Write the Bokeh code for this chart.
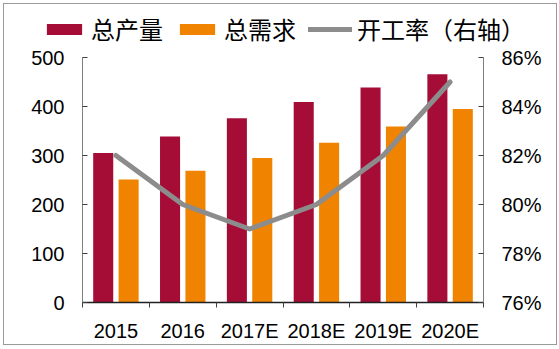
import numpy as np
from bokeh.plotting import figure
from bokeh.layouts import column
from bokeh.models import (ColumnDataSource, Range1d, LinearAxis, FixedTicker,
                          PrintfTickFormatter, Legend, LegendItem)
from bokeh.transform import dodge
from bokeh.embed import file_html
from bokeh.resources import INLINE

categories = ["2015", "2016", "2017E", "2018E", "2019E", "2020E"]
total_output = [305, 339, 376, 409, 439, 466]
total_demand = [251, 269, 295, 326, 359, 395]
utilization = [82, 80, 79, 80, 82, 85]
left_ticks = [0, 100, 200, 300, 400, 500]
right_ticks = [76, 78, 80, 82, 84, 86]
series_names = ["总产量", "总需求", "开工率（右轴）\u00a0"]

RED = "#A50D37"
ORANGE = "#F08300"
GRAY = "#8C8C8C"

xc = np.arange(len(categories)) + 0.5
src = ColumnDataSource(dict(x=xc, prod=total_output, dem=total_demand, rate=utilization))

p = figure(width=552, height=298, output_backend="svg", toolbar_location=None,
           x_range=Range1d(0, len(categories)), y_range=Range1d(0, 500),
           min_border_left=78, min_border_right=73, min_border_top=11, min_border_bottom=40,
           x_axis_location=None, y_axis_location=None)
p.outline_line_color = None
p.grid.visible = False
p.background_fill_color = "white"
p.border_fill_color = "white"

p.extra_y_ranges = {"rate": Range1d(76, 86)}

bar_kw = dict(width=0.3, bottom=0, line_color=None)
r1 = p.vbar(x=dodge("x", -0.19, range=p.x_range), top="prod", source=src, fill_color=RED, **bar_kw)
r2 = p.vbar(x=dodge("x", 0.19, range=p.x_range), top="dem", source=src, fill_color=ORANGE, **bar_kw)
line_kw = dict(line_color=GRAY, line_width=5, line_join="round", line_cap="round")
r3 = p.line(x="x", y="rate", source=src, y_range_name="rate", **line_kw)

font = "Liberation Sans"

# bottom axis
xa = LinearAxis(ticker=FixedTicker(ticks=list(xc), minor_ticks=list(range(len(categories) + 1))))
xa.major_label_overrides = {float(v): c for v, c in zip(xc, categories)}
xa.major_tick_in = 0
xa.major_tick_out = 0
xa.minor_tick_in = 0
xa.minor_tick_out = 5
xa.minor_tick_line_color = "#404040"
xa.axis_line_color = "#202020"
xa.axis_line_width = 1.5
xa.major_label_text_font = font
xa.major_label_text_font_size = "20px"
xa.major_label_text_color = "black"
xa.major_label_standoff = 12
p.add_layout(xa, "below")

# left axis
ya = LinearAxis(ticker=FixedTicker(ticks=left_ticks))
ya.major_tick_in = 5
ya.major_tick_out = 0
ya.minor_tick_line_color = None
ya.axis_line_color = "#7f7f7f"
ya.major_tick_line_color = "#404040"
ya.major_label_text_font = font
ya.major_label_text_font_size = "20px"
ya.major_label_text_color = "black"
ya.major_label_standoff = 18
p.add_layout(ya, "left")

# right axis
ra = LinearAxis(y_range_name="rate", ticker=FixedTicker(ticks=right_ticks),
                formatter=PrintfTickFormatter(format="%d%%"))
ra.major_tick_in = 5
ra.major_tick_out = 0
ra.minor_tick_line_color = None
ra.axis_line_color = "#7f7f7f"
ra.major_tick_line_color = "#404040"
ra.major_label_text_font = font
ra.major_label_text_font_size = "20px"
ra.major_label_text_color = "black"
ra.major_label_standoff = 18
p.add_layout(ra, "right")

# legend strip: a separate figure whose view lies far away from the data, so
# that its copies of the series only serve as legend swatches
lf = figure(width=552, height=42, output_backend="svg", toolbar_location=None,
            x_range=Range1d(-1001, -1000), y_range=Range1d(-1001, -1000),
            min_border=0, x_axis_location=None, y_axis_location=None)
lf.frame_align = False
lf.outline_line_color = None
lf.grid.visible = False
lf.border_fill_color = "white"
lf.background_fill_color = "white"
l1 = lf.vbar(x="x", top="prod", source=src, fill_color=RED, **bar_kw)
l2 = lf.vbar(x="x", top="dem", source=src, fill_color=ORANGE, **bar_kw)
l3 = lf.line(x="x", y="rate", source=src, **line_kw)

legend = Legend(items=[LegendItem(label=series_names[0], renderers=[l1]),
                       LegendItem(label=series_names[1], renderers=[l2]),
                       LegendItem(label=series_names[2], renderers=[l3])],
                orientation="horizontal", location=(38, 0),
                padding=0, margin=0, spacing=12, label_standoff=5,
                glyph_width=44, glyph_height=14,
                label_text_font="Noto Sans CJK SC", label_text_font_size="24px",
                label_text_color="black", label_text_baseline="middle",
                border_line_color=None, background_fill_alpha=0)
lf.add_layout(legend, "center")

layout = column(lf, p, spacing=0)
layout.styles = {"border": "1px solid #9a9a9a", "margin-left": "3px", "margin-top": "3px"}

open("out.html", "w").write(file_html(layout, INLINE))
